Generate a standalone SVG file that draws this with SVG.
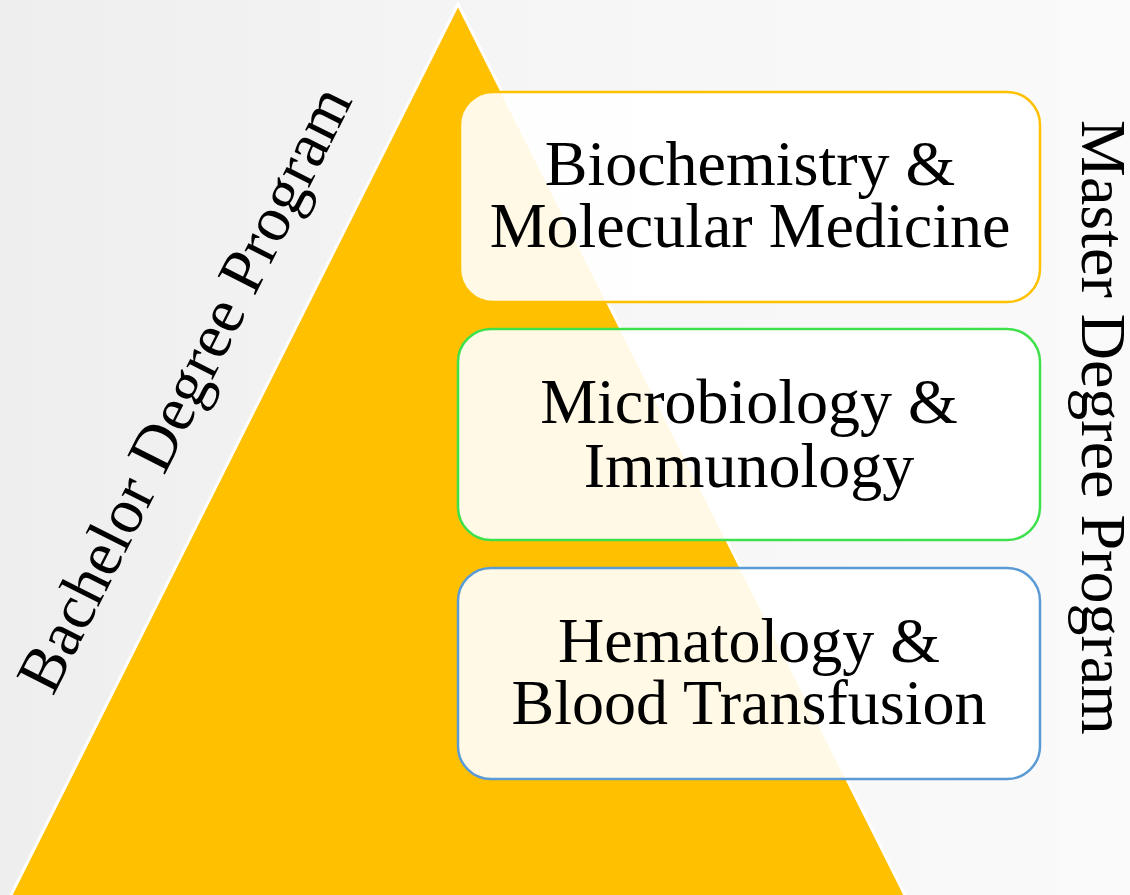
<svg xmlns="http://www.w3.org/2000/svg" width="1130" height="895" viewBox="0 0 1130 895">
  <defs>
    <linearGradient id="bg" x1="0" y1="0" x2="1" y2="0">
      <stop offset="0" stop-color="#EEEEEE"/>
      <stop offset="0.5" stop-color="#F6F6F6"/>
      <stop offset="1" stop-color="#FAFAFA"/>
    </linearGradient>
  </defs>
  <style>
    .lbl { font-family: "Liberation Serif", "Times New Roman", serif; font-size: 64px; fill: #000; }
    .box { fill: #FFFFFF; fill-opacity: 0.9; stroke-width: 2.5; }
  </style>
  <rect x="0" y="0" width="1130" height="895" fill="url(#bg)"/>
  <g id="pyramid">
    <polygon points="458,4 10,897 906,897" fill="#FFC000" stroke="#FFFFFF" stroke-width="3" stroke-linejoin="miter"/>
  </g>
  <g id="bachelor-label">
    <text class="lbl" transform="translate(53,697) rotate(-63.3)">Bachelor Degree Program</text>
  </g>
  <g id="master-label">
    <text class="lbl" transform="translate(1082,120) rotate(90)">Master Degree Program</text>
  </g>
  <g id="node-biochemistry">
    <rect class="box" x="460" y="92" width="580" height="210" rx="33" ry="33" stroke="#FFC000"/>
    <text class="lbl" x="750" y="185" text-anchor="middle">Biochemistry &amp;</text>
    <text class="lbl" x="750" y="247" text-anchor="middle">Molecular Medicine</text>
  </g>
  <g id="node-microbiology">
    <rect class="box" x="458" y="329" width="582" height="211" rx="33" ry="33" stroke="#3EE14C"/>
    <text class="lbl" x="749" y="423" text-anchor="middle">Microbiology &amp;</text>
    <text class="lbl" x="749" y="487" text-anchor="middle">Immunology</text>
  </g>
  <g id="node-hematology">
    <rect class="box" x="458" y="568" width="582" height="211" rx="33" ry="33" stroke="#5B9BD5"/>
    <text class="lbl" x="749" y="662" text-anchor="middle">Hematology &amp;</text>
    <text class="lbl" x="749" y="724" text-anchor="middle">Blood Transfusion</text>
  </g>
  <g id="connectors"/>
</svg>
